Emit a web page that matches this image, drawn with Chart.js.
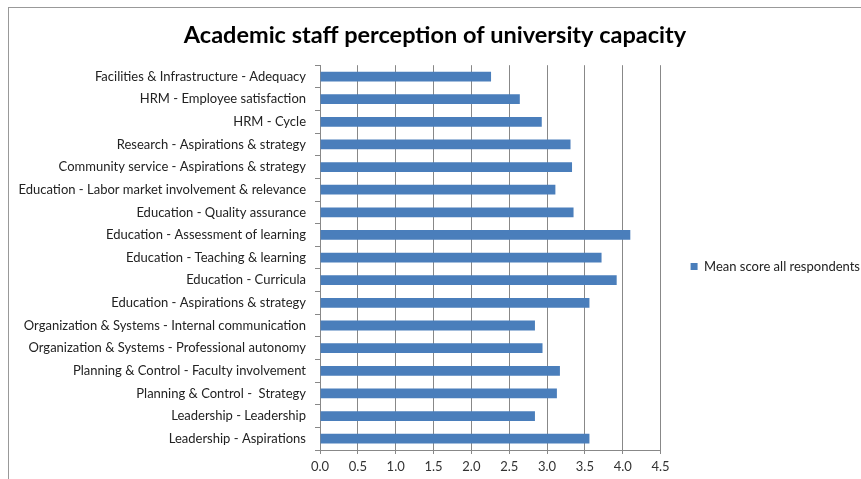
<!DOCTYPE html>
<html>
  <head>
    <meta charset="utf-8">
    <title>University capacity</title>
    <script src="https://cdn.jsdelivr.net/npm/chart.js@4.4.1/dist/chart.umd.min.js"></script>
    <style>
      body { margin: 0; background: #fff; }
      #wrap { position: relative; width: 861px; height: 479px; }
      #frame { position: absolute; left: 8px; top: 7px; right: 0; bottom: 0;
               border-top: 1px solid #999; border-left: 1px solid #999; pointer-events: none; }
    </style>
  </head>
  <body>
    <div id="wrap">
      <canvas id="chart" width="861" height="479"></canvas>
      <div id="frame"></div>
    </div>

    <script type="text/javascript">
    var categories = [
      "Facilities & Infrastructure - Adequacy",
      "HRM - Employee satisfaction",
      "HRM - Cycle",
      "Research - Aspirations & strategy",
      "Community service - Aspirations & strategy",
      "Education - Labor market involvement & relevance",
      "Education - Quality assurance",
      "Education - Assessment of learning",
      "Education - Teaching & learning",
      "Education - Curricula",
      "Education - Aspirations & strategy",
      "Organization & Systems - Internal communication",
      "Organization & Systems - Professional autonomy",
      "Planning & Control - Faculty involvement",
      "Planning & Control -  Strategy",
      "Leadership - Leadership",
      "Leadership - Aspirations"
    ]
    var meanScores = [2.26, 2.64, 2.93, 3.31, 3.33, 3.11, 3.35, 4.10, 3.72, 3.92, 3.56, 2.84, 2.94, 3.17, 3.13, 2.84, 3.56]
    var xTicks = [0, 0.5, 1, 1.5, 2, 2.5, 3, 3.5, 4, 4.5]

    var font = "Lato, 'Liberation Sans', sans-serif"

    // nudge the legend down a bit so it sits where Excel put it
    var legendShift = {
      id: 'legendShift',
      afterLayout: function(chart) {
        chart.legend.top += 23
        chart.legend.bottom += 23
      }
    }

    var chart = new Chart(document.getElementById("chart"), {
      type: 'bar',
      data: {
        labels: categories,
        datasets: [{
          label: "Mean score all respondents",
          data: meanScores,
          backgroundColor: "#4A7EBB",
          borderWidth: 0,
          barPercentage: 0.9,
          categoryPercentage: 0.48
        }]
      },
      options: {
        indexAxis: 'y',
        responsive: false,
        animation: false,
        layout: { padding: { left: 0, right: -9, top: 8, bottom: 0 } },
        plugins: {
          title: {
            display: true,
            text: "Academic staff perception of university capacity",
            color: "#000",
            font: { family: font, size: 23.5, weight: 'bold' },
            padding: { top: 13, bottom: 16 }
          },
          legend: {
            position: 'right',
            labels: {
              color: "#222",
              font: { family: font, size: 13 },
              boxWidth: 7,
              boxHeight: 7,
              padding: 30
            }
          },
          tooltip: { enabled: false }
        },
        scales: {
          x: {
            min: 0,
            max: 4.5,
            afterBuildTicks: function(axis) {
              axis.ticks = xTicks.map(function(v) { return { value: v } })
            },
            afterFit: function(axis) { axis.height = 29 },
            ticks: {
              color: "#333",
              font: { family: font, size: 13 },
              padding: 5,
              callback: function(v) { return Number(v).toFixed(1) }
            },
            grid: { color: "#888", tickLength: 4, drawTicks: true },
            border: { color: "#888" }
          },
          y: {
            afterFit: function(axis) { axis.width = 320 },
            grid: { offset: true, drawOnChartArea: false, tickLength: 5, color: "#888" },
            border: { color: "#888" },
            ticks: {
              color: "#222",
              font: { family: font, size: 13 },
              padding: 9
            }
          }
        }
      },
      plugins: [legendShift]
    });
    </script>
  </body>
</html>
